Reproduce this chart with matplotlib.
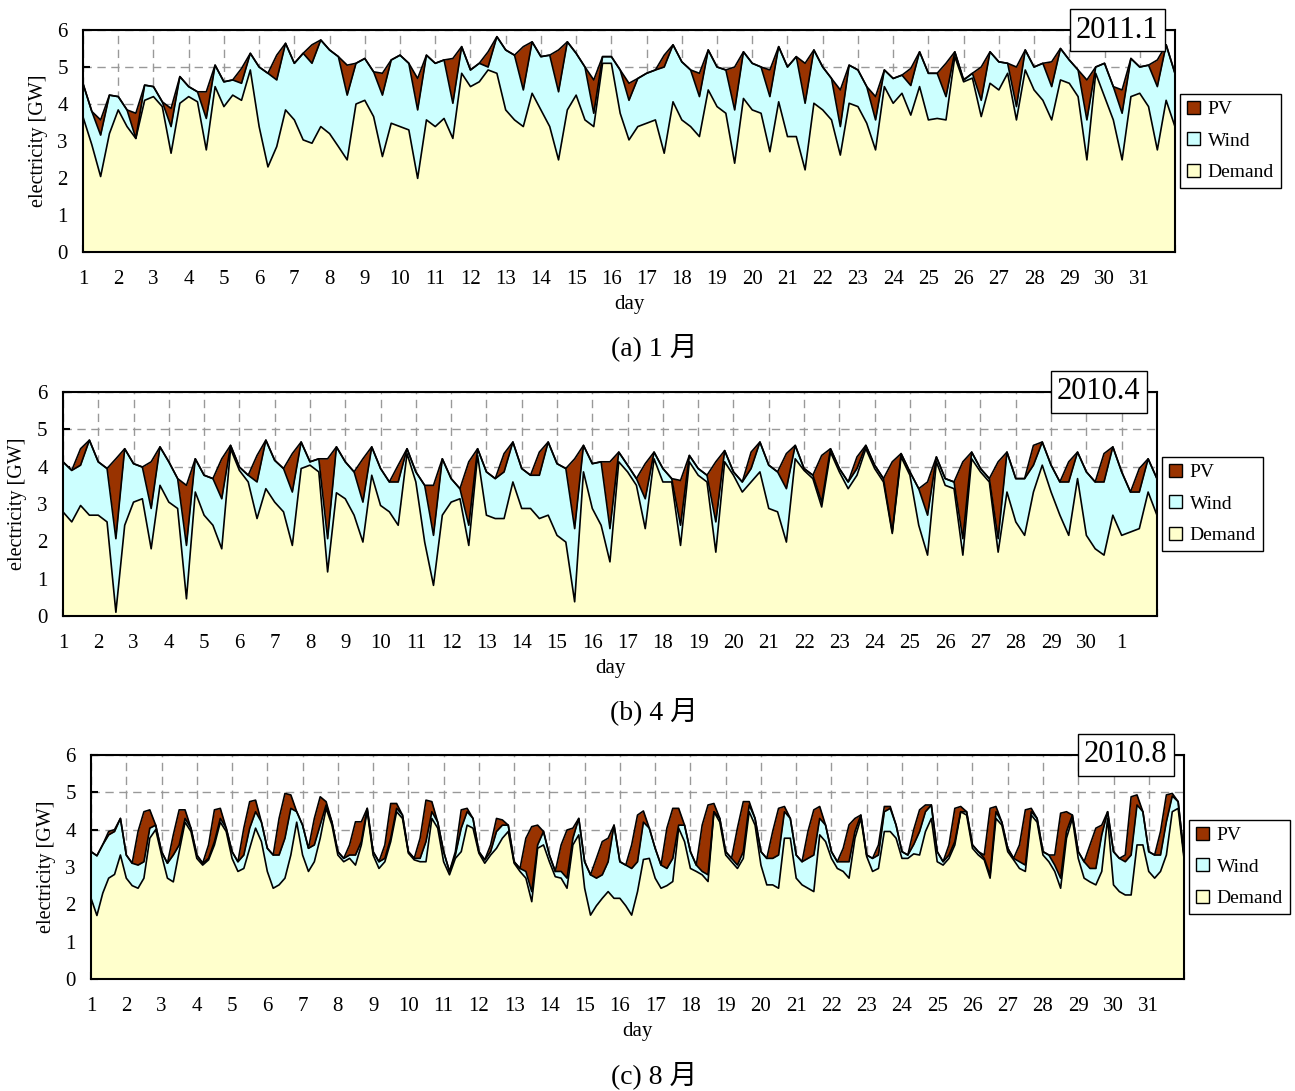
import numpy as np
import matplotlib.pyplot as plt
from matplotlib.patches import Patch
from matplotlib.ticker import MultipleLocator

plt.rcParams['font.family'] = ['Liberation Serif', 'Noto Sans CJK JP']

# levels of the stacked areas [GW]: base = Demand top, mid = Demand+Wind, total = +PV
# Jan / Apr sampled every 6 h (0, 6, 12, 18 h), Aug every 4 h; last value = start of next day

# 2011.1
jan_total = [4.55, 3.80, 3.57, 4.24, 4.20, 3.84, 3.75, 4.51, 4.47, 4.06, 3.88, 4.74, 4.47, 4.33, 4.33, 5.05,
             4.60, 4.65, 4.96, 5.37, 5.00, 4.83, 5.32, 5.64, 5.10, 5.37, 5.60, 5.73, 5.46, 5.28, 5.05, 5.10,
             5.23, 4.87, 4.83, 5.19, 5.32, 5.10, 4.69, 5.32, 5.10, 5.19, 5.23, 5.55, 4.92, 5.10, 5.41, 5.82,
             5.46, 5.32, 5.55, 5.68, 5.28, 5.32, 5.46, 5.68, 5.37, 5.00, 4.65, 5.28, 5.28, 4.92, 4.56, 4.69,
             4.83, 4.92, 5.32, 5.60, 5.14, 4.92, 4.83, 5.46, 5.00, 4.92, 5.00, 5.41, 5.10, 5.00, 4.92, 5.55,
             5.00, 5.28, 5.10, 5.46, 5.00, 4.69, 4.38, 5.05, 4.92, 4.47, 4.20, 4.92, 4.69, 4.78, 4.96, 5.41,
             4.83, 4.83, 5.10, 5.41, 4.65, 4.83, 5.00, 5.41, 5.14, 5.10, 5.00, 5.46, 5.00, 5.10, 5.14, 5.50,
             5.19, 4.92, 4.65, 5.00, 5.10, 4.47, 4.38, 5.23, 5.00, 5.05, 5.19, 5.60, 4.83]
jan_mid = [4.55, 3.80, 3.16, 4.24, 4.20, 3.84, 3.07, 4.51, 4.47, 4.06, 3.39, 4.74, 4.47, 4.33, 3.61, 5.05,
           4.60, 4.65, 4.56, 5.37, 5.00, 4.83, 4.65, 5.64, 5.10, 5.37, 5.10, 5.73, 5.46, 5.28, 4.24, 5.10,
           5.23, 4.87, 4.24, 5.19, 5.32, 5.10, 3.84, 5.32, 5.10, 5.19, 4.02, 5.55, 4.92, 5.10, 5.00, 5.82,
           5.46, 5.32, 4.38, 5.68, 5.28, 5.32, 4.33, 5.68, 5.37, 5.00, 3.75, 5.28, 5.28, 4.92, 4.10, 4.69,
           4.83, 4.92, 5.00, 5.60, 5.14, 4.92, 4.20, 5.46, 5.00, 4.92, 3.84, 5.41, 5.10, 5.00, 4.20, 5.55,
           5.00, 5.28, 4.02, 5.46, 5.00, 4.69, 3.39, 5.05, 4.92, 4.47, 3.57, 4.92, 4.69, 4.78, 4.50, 5.41,
           4.83, 4.83, 4.20, 5.41, 4.65, 4.83, 4.10, 5.41, 5.14, 5.10, 3.93, 5.46, 5.00, 5.10, 4.47, 5.50,
           5.19, 4.92, 3.57, 5.00, 5.10, 4.47, 3.75, 5.23, 5.00, 5.05, 4.47, 5.60, 4.83]
jan_base = [3.65, 2.90, 2.04, 3.20, 3.84, 3.39, 3.07, 4.10, 4.20, 3.93, 2.67, 4.02, 4.20, 4.06, 2.76, 4.47,
            3.93, 4.24, 4.10, 4.92, 3.39, 2.30, 2.85, 3.84, 3.57, 3.03, 2.94, 3.39, 3.20, 2.85, 2.49, 4.00,
            4.10, 3.66, 2.58, 3.48, 3.39, 3.30, 1.99, 3.57, 3.39, 3.61, 3.07, 4.83, 4.47, 4.60, 4.92, 4.83,
            3.84, 3.57, 3.39, 4.29, 3.84, 3.39, 2.49, 3.84, 4.24, 3.57, 3.39, 5.10, 5.10, 3.75, 3.03, 3.39,
            3.48, 3.57, 2.67, 4.06, 3.57, 3.39, 3.12, 4.38, 3.93, 3.75, 2.40, 4.15, 3.84, 3.75, 2.71, 4.06,
            3.12, 3.12, 2.22, 4.02, 3.84, 3.57, 2.62, 4.02, 3.93, 3.48, 2.76, 4.47, 4.02, 4.29, 3.70, 4.47,
            3.57, 3.61, 3.57, 5.28, 4.60, 4.70, 3.66, 4.56, 4.38, 4.83, 3.57, 4.92, 4.38, 4.10, 3.57, 4.65,
            4.56, 4.20, 2.49, 4.83, 4.20, 3.57, 2.49, 4.20, 4.29, 3.93, 2.76, 4.10, 3.39]

# 2010.4
apr_total = [4.13, 3.90, 4.48, 4.71, 4.13, 3.95, 4.21, 4.48, 4.08, 3.99, 4.13, 4.53, 4.13, 3.68, 3.50, 4.21,
             3.77, 3.68, 4.21, 4.57, 3.99, 3.77, 4.30, 4.71, 4.17, 3.95, 4.35, 4.66, 4.13, 4.21, 4.21, 4.53,
             4.13, 3.86, 4.21, 4.53, 3.95, 3.59, 4.04, 4.48, 3.86, 3.50, 3.50, 4.21, 3.68, 3.41, 4.13, 4.48,
             3.86, 3.68, 4.35, 4.66, 3.95, 3.77, 4.39, 4.66, 4.08, 3.95, 4.21, 4.57, 4.08, 4.13, 4.13, 4.39,
             4.04, 3.68, 4.08, 4.39, 3.95, 3.68, 3.63, 4.30, 3.95, 3.77, 4.13, 4.43, 3.86, 3.59, 4.39, 4.66,
             4.04, 3.86, 4.35, 4.57, 3.95, 3.77, 4.30, 4.48, 3.95, 3.59, 4.26, 4.57, 4.04, 3.68, 4.13, 4.35,
             3.86, 3.41, 3.59, 4.26, 3.68, 3.59, 4.13, 4.39, 3.95, 3.68, 4.13, 4.39, 3.68, 3.68, 4.57, 4.66,
             4.04, 3.59, 4.13, 4.39, 3.86, 3.59, 4.35, 4.53, 3.86, 3.32, 3.95, 4.21, 3.68]
apr_mid = [4.13, 3.90, 4.04, 4.71, 4.13, 3.95, 2.07, 4.48, 4.08, 3.99, 2.88, 4.53, 4.13, 3.68, 1.89, 4.21,
           3.77, 3.68, 3.14, 4.57, 3.99, 3.77, 3.59, 4.71, 4.17, 3.95, 3.32, 4.66, 4.13, 4.21, 2.07, 4.53,
           4.13, 3.86, 3.05, 4.53, 3.95, 3.59, 3.59, 4.48, 3.86, 3.50, 2.16, 4.21, 3.68, 3.41, 2.43, 4.48,
           3.86, 3.68, 3.86, 4.66, 3.95, 3.77, 3.77, 4.66, 4.08, 3.95, 2.34, 4.57, 4.08, 4.13, 2.34, 4.39,
           4.04, 3.68, 3.14, 4.39, 3.95, 3.68, 2.43, 4.30, 3.95, 3.77, 2.52, 4.43, 3.86, 3.59, 3.95, 4.66,
           4.04, 3.86, 3.41, 4.57, 3.95, 3.77, 3.05, 4.48, 3.95, 3.59, 3.95, 4.57, 4.04, 3.68, 2.25, 4.35,
           3.86, 3.41, 2.70, 4.26, 3.68, 3.59, 2.07, 4.39, 3.95, 3.68, 2.07, 4.39, 3.68, 3.68, 4.04, 4.66,
           4.04, 3.59, 3.59, 4.39, 3.86, 3.59, 3.59, 4.53, 3.86, 3.32, 3.32, 4.21, 3.68]
apr_base = [2.79, 2.52, 2.96, 2.70, 2.70, 2.52, 0.10, 2.43, 3.05, 3.14, 1.80, 3.50, 3.05, 2.88, 0.46, 3.32,
            2.70, 2.43, 1.80, 4.48, 3.90, 3.59, 2.61, 3.41, 3.05, 2.79, 1.89, 3.95, 4.04, 3.86, 1.18, 3.30,
            3.14, 2.70, 1.98, 3.77, 2.96, 2.79, 2.43, 4.35, 3.59, 1.98, 0.82, 2.70, 3.05, 3.14, 1.89, 4.30,
            2.70, 2.61, 2.61, 3.59, 2.88, 2.88, 2.61, 2.70, 2.16, 1.98, 0.38, 3.86, 2.88, 2.43, 1.45, 4.13,
            3.86, 3.50, 2.34, 4.21, 3.59, 3.59, 1.89, 4.13, 3.77, 3.59, 1.71, 4.13, 3.77, 3.32, 3.59, 3.86,
            2.88, 2.79, 1.98, 4.21, 3.90, 3.68, 2.92, 4.39, 3.86, 3.41, 3.77, 4.48, 3.95, 3.59, 2.21, 4.26,
            3.77, 2.43, 1.63, 4.13, 3.50, 3.41, 1.63, 4.21, 3.86, 3.59, 1.71, 3.32, 2.52, 2.16, 3.32, 4.04,
            3.32, 2.70, 2.16, 3.68, 2.16, 1.80, 1.63, 2.70, 2.16, 2.25, 2.34, 3.32, 2.70]

# 2010.8 (0, 4, 8, 12, 16, 20 h)
aug_total = [3.41, 3.30, 3.60, 3.95, 4.00, 4.30, 3.32, 3.10, 3.95, 4.48, 4.53, 4.12,
             3.41, 3.10, 3.86, 4.53, 4.53, 4.04, 3.32, 3.10, 3.59, 4.53, 4.57, 4.04,
             3.41, 3.14, 4.04, 4.75, 4.79, 4.20, 3.50, 3.32, 4.30, 4.97, 4.93, 4.48,
             4.12, 3.50, 4.30, 4.88, 4.75, 4.20, 3.41, 3.23, 3.59, 4.21, 4.21, 4.57,
             3.41, 3.14, 3.59, 4.70, 4.70, 4.39, 3.41, 3.23, 3.77, 4.79, 4.75, 4.20,
             3.41, 2.88, 3.41, 4.53, 4.57, 4.30, 3.41, 3.19, 3.59, 4.30, 4.26, 4.12,
             3.14, 2.96, 3.77, 4.08, 4.12, 3.95, 3.32, 2.88, 3.59, 3.99, 4.04, 4.30,
             3.14, 2.79, 3.23, 3.68, 3.77, 4.12, 3.14, 3.05, 3.59, 4.39, 4.50, 4.04,
             3.50, 3.05, 4.04, 4.57, 4.57, 4.12, 3.41, 3.05, 4.12, 4.66, 4.70, 4.30,
             3.41, 3.23, 4.04, 4.75, 4.75, 4.30, 3.41, 3.23, 3.95, 4.57, 4.62, 4.30,
             3.32, 3.14, 3.95, 4.53, 4.62, 4.12, 3.41, 3.14, 3.50, 4.13, 4.30, 4.39,
             3.32, 3.23, 3.59, 4.62, 4.62, 4.12, 3.41, 3.32, 4.00, 4.53, 4.66, 4.66,
             3.41, 3.14, 3.59, 4.57, 4.62, 4.48, 3.59, 3.41, 3.32, 4.57, 4.62, 4.20,
             3.50, 3.23, 3.59, 4.53, 4.57, 4.30, 3.41, 3.32, 3.32, 4.44, 4.48, 4.39,
             3.41, 3.14, 3.59, 4.04, 4.12, 4.48, 3.41, 3.23, 3.32, 4.88, 4.93, 4.48,
             3.41, 3.32, 3.95, 4.93, 4.97, 4.75, 3.32]
aug_mid = [3.41, 3.30, 3.60, 3.86, 3.95, 4.30, 3.32, 3.10, 3.05, 3.14, 4.04, 4.12,
           3.41, 3.10, 3.32, 3.59, 4.30, 4.04, 3.32, 3.10, 3.23, 3.68, 4.30, 4.04,
           3.41, 3.14, 3.32, 4.04, 4.48, 4.20, 3.50, 3.32, 3.32, 3.77, 4.57, 4.48,
           4.12, 3.50, 3.59, 4.13, 4.66, 4.20, 3.41, 3.23, 3.32, 3.32, 3.68, 4.57,
           3.41, 3.14, 3.23, 3.77, 4.57, 4.39, 3.41, 3.23, 3.23, 3.68, 4.48, 4.20,
           3.41, 2.88, 3.32, 4.04, 4.48, 4.30, 3.41, 3.19, 3.41, 3.95, 4.12, 4.12,
           3.14, 2.96, 2.88, 2.34, 3.59, 3.95, 3.32, 2.88, 2.88, 2.70, 3.77, 4.30,
           3.14, 2.79, 2.70, 2.79, 3.14, 4.12, 3.14, 3.05, 2.96, 3.14, 4.20, 4.04,
           3.50, 3.05, 2.96, 3.23, 4.12, 4.12, 3.41, 3.05, 2.88, 2.79, 4.48, 4.30,
           3.41, 3.23, 3.05, 3.41, 4.66, 4.30, 3.41, 3.23, 3.23, 3.32, 4.48, 4.30,
           3.32, 3.14, 3.23, 3.32, 4.30, 4.12, 3.41, 3.14, 3.14, 3.14, 3.95, 4.39,
           3.32, 3.23, 3.32, 4.48, 4.57, 4.12, 3.41, 3.32, 3.60, 3.95, 4.48, 4.66,
           3.41, 3.14, 3.32, 3.68, 4.48, 4.48, 3.59, 3.41, 3.23, 2.79, 4.48, 4.20,
           3.50, 3.23, 3.14, 3.05, 4.48, 4.30, 3.41, 3.32, 3.05, 2.70, 3.95, 4.39,
           3.41, 3.14, 2.96, 2.96, 3.86, 4.48, 3.41, 3.23, 3.14, 3.32, 4.66, 4.48,
           3.41, 3.32, 3.32, 4.21, 4.90, 4.75, 3.32]
aug_base = [2.16, 1.70, 2.30, 2.70, 2.80, 3.32, 2.70, 2.50, 2.43, 2.70, 3.77, 4.00,
            3.32, 2.70, 2.60, 3.41, 4.20, 3.95, 3.23, 3.05, 3.19, 3.59, 4.20, 3.95,
            3.23, 2.88, 2.96, 3.50, 4.04, 3.68, 2.88, 2.43, 2.52, 2.70, 3.32, 4.20,
            3.32, 2.88, 3.14, 3.77, 4.57, 4.12, 3.32, 3.14, 3.23, 3.05, 3.59, 4.50,
            3.32, 2.96, 3.14, 3.68, 4.48, 4.30, 3.37, 3.19, 3.14, 3.14, 4.30, 4.04,
            3.14, 2.79, 3.23, 3.41, 4.12, 4.04, 3.37, 3.10, 3.32, 3.50, 3.77, 3.95,
            3.10, 2.88, 2.70, 2.07, 3.50, 3.59, 3.14, 2.74, 2.70, 2.43, 3.59, 3.86,
            2.43, 1.71, 1.96, 2.16, 2.34, 2.16, 2.16, 1.96, 1.71, 2.34, 3.20, 3.23,
            2.70, 2.43, 2.50, 2.61, 4.04, 3.68, 2.96, 2.88, 2.79, 2.61, 4.48, 4.20,
            3.32, 3.14, 2.96, 3.23, 4.48, 4.12, 3.05, 2.52, 2.52, 2.43, 3.77, 3.77,
            2.70, 2.52, 2.43, 2.34, 3.86, 3.68, 3.23, 2.96, 2.88, 2.70, 3.77, 4.30,
            3.28, 2.88, 2.96, 3.95, 3.95, 3.77, 3.23, 3.23, 3.35, 3.32, 3.95, 4.30,
            3.14, 3.05, 3.23, 3.59, 4.48, 4.39, 3.50, 3.32, 3.19, 2.70, 4.30, 4.12,
            3.41, 3.19, 2.96, 2.88, 4.39, 4.20, 3.32, 3.14, 2.88, 2.43, 3.77, 4.30,
            3.23, 2.70, 2.60, 2.52, 2.88, 4.30, 2.52, 2.34, 2.25, 2.25, 3.59, 3.59,
            2.88, 2.70, 2.88, 3.32, 4.48, 4.57, 3.23]

jan_days = [str(d) for d in range(1, 32)]
apr_days = [str(d) for d in range(1, 31)] + ['1']
aug_days = [str(d) for d in range(1, 32)]

c_pv = '#993300'
c_wind = '#ccffff'
c_demand = '#ffffcc'


def draw(ax, total, mid, base, days, stamp):
    t = np.linspace(0, 31, len(total))
    ax.fill_between(t, 0, base, color=c_demand, lw=0, zorder=2)
    ax.fill_between(t, base, mid, color=c_wind, lw=0, zorder=2)
    ax.fill_between(t, mid, total, color=c_pv, lw=0, zorder=2)
    for y in (total, mid, base):
        ax.plot(t, y, color='black', lw=1.2, zorder=3)
    ax.set_xlim(0, 31)
    ax.set_ylim(0, 6)
    ax.set_xticks(np.arange(len(days)))
    ax.set_xticklabels(days)
    ax.xaxis.set_minor_locator(MultipleLocator(0.5))
    ax.set_yticks(range(7))
    ax.tick_params(which='both', direction='in', length=5, width=1.5)
    ax.tick_params(axis='x', labelsize=15, pad=13)
    ax.tick_params(axis='y', labelsize=15, pad=11)
    ax.grid(True, which='major', ls=(0, (6, 4)), color='#999999', lw=1)
    ax.set_axisbelow(True)
    for s in ax.spines.values():
        s.set_linewidth(1.5)
        s.set_zorder(4)
    ax.set_xlabel('day', fontsize=15, labelpad=4)
    ax.set_ylabel('electricity [GW]', fontsize=14.5, labelpad=7)
    ax.text(0.985, 1.0, stamp, transform=ax.transAxes, ha='right', va='center', fontsize=22,
            zorder=6, bbox=dict(boxstyle='square,pad=0.2', fc='white', ec='black', lw=1))
    handles = [Patch(fc=c_pv, ec='black', lw=1, label='PV'),
               Patch(fc=c_wind, ec='black', lw=1, label='Wind'),
               Patch(fc=c_demand, ec='black', lw=1, label='Demand')]
    leg = ax.legend(handles=handles, loc='center left', bbox_to_anchor=(1.005, 0.5), borderaxespad=0,
                    fontsize=14, handlelength=0.65, handleheight=0.65, handletextpad=0.4,
                    labelspacing=0.72, borderpad=0.35, fancybox=False, framealpha=1, edgecolor='black')
    leg.get_frame().set_linewidth(1)


fig = plt.figure(figsize=(12.95, 10.91), dpi=100)

ax1 = fig.add_axes([0.0641, 0.769, 0.8432, 0.2035])
draw(ax1, jan_total, jan_mid, jan_base, jan_days, '2011.1')
ax2 = fig.add_axes([0.0486, 0.4354, 0.8448, 0.2053])
draw(ax2, apr_total, apr_mid, apr_base, apr_days, '2010.4')
ax3 = fig.add_axes([0.0703, 0.1027, 0.844, 0.2053])
draw(ax3, aug_total, aug_mid, aug_base, aug_days, '2010.8')

fig.text(0.505, 1 - 347 / 1091, '(a) 1 月', ha='center', va='center', fontsize=20)
fig.text(0.505, 1 - 711 / 1091, '(b) 4 月', ha='center', va='center', fontsize=20)
fig.text(0.505, 1 - 1075 / 1091, '(c) 8 月', ha='center', va='center', fontsize=20)

fig.savefig('out.png', dpi=100)
